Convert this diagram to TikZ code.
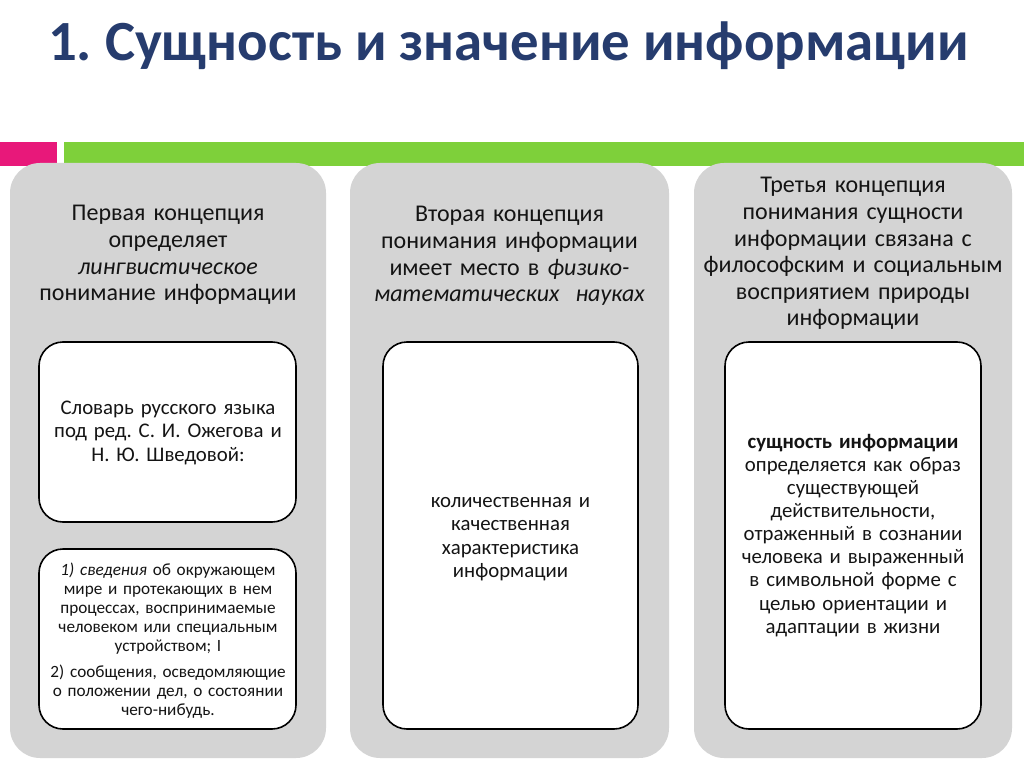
\documentclass[tikz,border=0pt]{standalone}
\usepackage{fontspec}
\setmainfont{Carlito}
\frenchspacing
\definecolor{titleblue}{RGB}{38,60,110}
\definecolor{barpink}{RGB}{232,24,122}
\definecolor{bargreen}{RGB}{126,208,58}
\definecolor{panelgray}{RGB}{212,212,212}
\definecolor{txt}{RGB}{20,20,20}
\tikzset{
  panel/.style={fill=panelgray, rounded corners=30pt},
  innerbox/.style={draw=black, line width=1.6pt, fill=white, rounded corners=24pt},
  headtxt/.style={anchor=base, align=center, text width=330pt, inner sep=0pt, text=txt, font=\fontsize{24}{26.6}\selectfont},
  boxtxt/.style={anchor=base, align=center, text width=260pt, inner sep=0pt, text=txt, font=\fontsize{20.8}{23.5}\selectfont},
  smalltxt/.style={anchor=base, align=center, text width=270pt, inner sep=0pt, text=txt, font=\fontsize{17.2}{19}\selectfont},
}
\begin{document}
\begin{tikzpicture}[x=1pt,y=-1pt]
\useasboundingbox (0,0) rectangle (1024,767);
\fill[white] (0,0) rectangle (1024,767);
% title
\node[anchor=base west, inner sep=0pt, text=titleblue, font=\fontsize{56.8}{62}\selectfont\bfseries] (title) at (48,61) {1. Сущность и значение информации};
% bars
\fill[barpink] (0,142) rectangle (57,166);
\fill[bargreen] (64,142) rectangle (1024,166);
% panels
\path[panel] (10,163) rectangle (326,758);
\path[panel] (350,163) rectangle (669,758);
\path[panel] (694,163) rectangle (1012,758);
% inner boxes
\path[innerbox] (39,342) rectangle (296,522);
\path[innerbox] (39,549) rectangle (296,729);
\path[innerbox] (383,342) rectangle (638,729);
\path[innerbox] (725,342) rectangle (981,729);
% headers
\node[headtxt] (h1) at (168,221) {Первая концепция\\ определяет\\ \textit{лингвистическое}\\ понимание информации};
\node[headtxt] (h2) at (509.5,222) {Вторая концепция\\ понимания информации\\ имеет место в \textit{физико-}\\ \textit{математических\ \ науках}};
\node[headtxt] (h3) at (853,193) {Третья концепция\\ понимания сущности\\ информации связана с\\ философским и социальным\\ восприятием природы\\ информации};
% box texts
\node[boxtxt] (b1) at (168,414) {Словарь русского языка\\ под ред. С. И. Ожегова и\\ Н. Ю. Шведовой:};
\node[smalltxt] (b2a) at (168,575) {\textit{1) сведения} об окружающем\\ мире и протекающих в нем\\ процессах, воспринимаемые\\ человеком или специальным\\ устройством; I};
\node[smalltxt] (b2b) at (168,677) {2) сообщения, осведомляющие\\ о положении дел, о состоянии\\ чего-нибудь.};
\node[boxtxt] (b3) at (510.5,507) {количественная и\\ качественная\\ характеристика\\ информации};
\node[boxtxt, font=\fontsize{20.8}{23.15}\selectfont] (b4) at (853,448) {\textbf{сущность информации}\\ определяется как образ\\ существующей\\ действительности,\\ отраженный в сознании\\ человека и выраженный\\ в символьной форме с\\ целью ориентации и\\ адаптации в жизни};
\end{tikzpicture}
\end{document}
